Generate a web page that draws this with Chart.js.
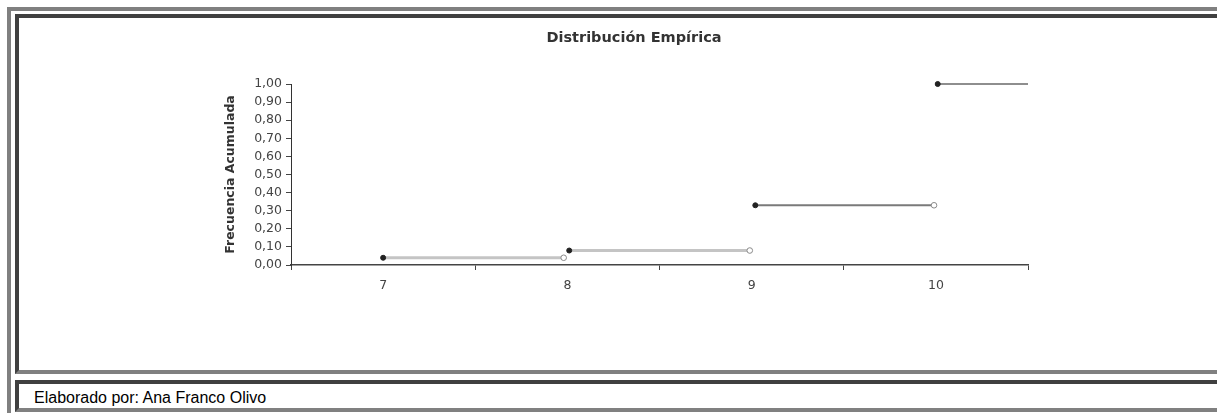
<!DOCTYPE html>
<html>
<head>
<meta charset="utf-8">
<title>Distribución Empírica</title>
<script src="https://cdn.jsdelivr.net/npm/chart.js@4.4.1/dist/chart.umd.min.js"></script>
<style>
  html, body { margin: 0; padding: 0; background: #fff; }
  body { width: 1217px; height: 413px; position: relative; overflow: hidden; font-family: "Liberation Sans", Arial, sans-serif; }
  .frame { position: absolute; left: 7px; top: 7px; width: 1300px; height: 500px; border-top: 4px solid #808080; border-left: 4px solid #808080; }
  .cell { position: absolute; left: 15px; width: 1300px; border-top: 4px solid #404040; border-left: 4px solid #404040; border-bottom: 4px solid #808080; }
  #cell-chart { top: 14px; height: 352px; }
  #cell-note { top: 380px; height: 24px; }
  #note { position: absolute; left: 34px; top: 389px; font-size: 16px; line-height: 18px; color: #000; white-space: nowrap; }
  #chart { position: absolute; left: 0; top: 0; }
</style>
</head>
<body>
<div class="frame"></div>
<div class="cell" id="cell-chart"></div>
<div class="cell" id="cell-note"></div>
<div id="note">Elaborado por: Ana Franco Olivo</div>
<canvas id="chart" width="1217" height="370"></canvas>

<script>
const chartTitle = 'Distribución Empírica';
const yTitle = 'Frecuencia Acumulada';

// x values (categories) and the steps of the empirical distribution
const categories = [7, 8, 9, 10];
const stepStart = [7.0, 8.01, 9.02, 10.01];
const stepEnd = [7.98, 8.99, 9.99, 10.5];
const cumFreq = [0.04, 0.08, 0.33, 1.00];
const yTickLabels = ['0,00', '0,10', '0,20', '0,30', '0,40', '0,50', '0,60', '0,70', '0,80', '0,90', '1,00'];

const tickFont = { family: 'DejaVu Sans', size: 12.5 };

const datasets = cumFreq.map((y, i) => {
    const last = i === cumFreq.length - 1;
    return {
        data: [{ x: stepStart[i], y: y }, { x: stepEnd[i], y: y }],
        showLine: true,
        fill: false,
        clip: false,
        borderColor: i < 2 ? '#c4c4c4' : (last ? '#8e8e8e' : '#7a7a7a'),
        borderWidth: i < 2 ? 3 : 2,
        pointRadius: last ? [2.5, 0] : [2.5, 2.8],
        pointBackgroundColor: ['#222', '#fff'],
        pointBorderColor: ['#222', '#8a8a8a'],
        pointBorderWidth: 1
    };
});

// title drawn on the canvas, a bit left of the plot centre like the original
const titlePlugin = {
    id: 'chartTitle',
    afterDraw(chart) {
        const ctx = chart.ctx;
        ctx.save();
        ctx.font = 'bold 14.5px "DejaVu Sans"';
        ctx.fillStyle = '#333';
        ctx.textAlign = 'center';
        ctx.textBaseline = 'middle';
        ctx.fillText(chartTitle, 634, 38.5);
        ctx.restore();
    }
};

new Chart(document.getElementById('chart').getContext('2d'), {
    type: 'line',
    data: { datasets: datasets },
    plugins: [titlePlugin],
    options: {
        responsive: false,
        animation: false,
        layout: { padding: { left: 223.5, right: 189, top: 84, bottom: 65 } },
        plugins: {
            legend: { display: false },
            tooltip: { enabled: false }
        },
        scales: {
            x: {
                type: 'linear',
                min: 6.5,
                max: 10.5,
                afterFit: s => { s.height = 40; },
                ticks: {
                    stepSize: 0.5,
                    autoSkip: false,
                    maxRotation: 0,
                    padding: 8,
                    color: '#444',
                    font: tickFont,
                    callback: v => categories.includes(v) ? String(v) : ''
                },
                grid: {
                    drawOnChartArea: false,
                    tickLength: 5,
                    color: c => (c.tick && categories.includes(c.tick.value)) ? 'rgba(0,0,0,0)' : '#444'
                },
                border: { color: '#444', width: 1.5 }
            },
            y: {
                min: 0,
                max: 1,
                afterFit: s => { s.width = 67.5; },
                ticks: {
                    stepSize: 0.1,
                    autoSkip: false,
                    padding: 4,
                    color: '#444',
                    font: tickFont,
                    callback: (v, i) => yTickLabels[i]
                },
                grid: { drawOnChartArea: false, tickLength: 5, color: '#444' },
                border: { color: '#333', width: 1 },
                title: {
                    display: true,
                    text: yTitle,
                    color: '#333',
                    padding: 0,
                    font: { family: 'DejaVu Sans', size: 12.5, weight: 'bold' }
                }
            }
        }
    }
});
</script>
</body>
</html>
